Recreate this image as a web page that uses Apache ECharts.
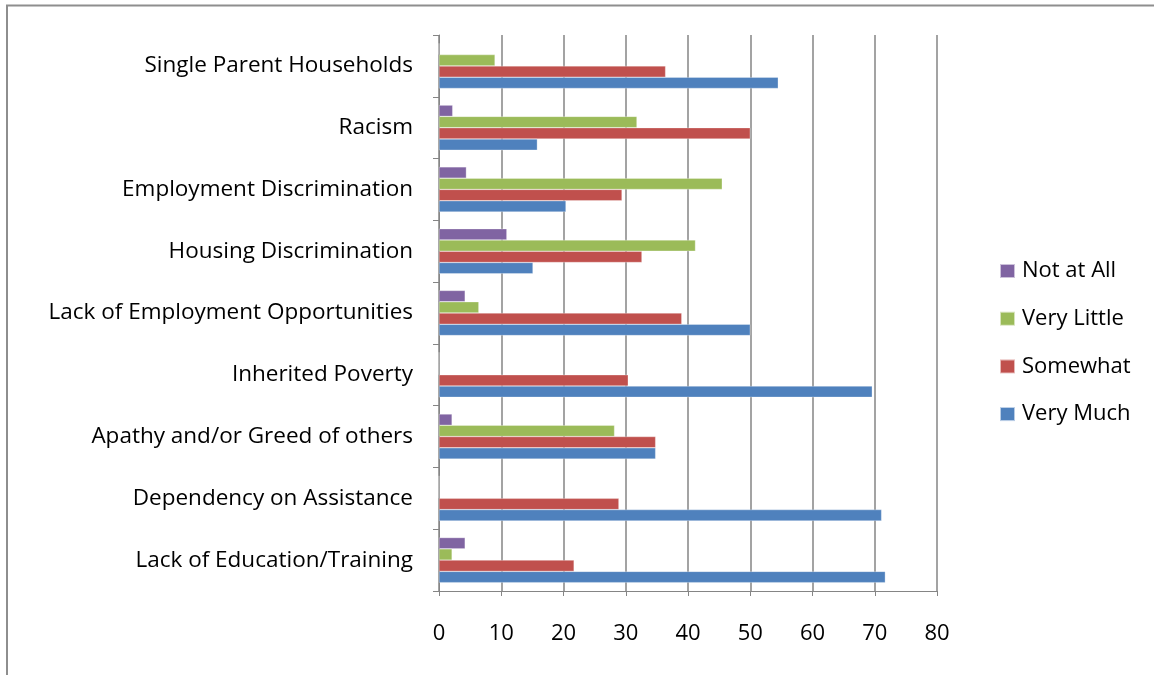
<!DOCTYPE html>
<html>
<head>
<meta charset="utf-8">
<script src="https://cdn.jsdelivr.net/npm/echarts@6/dist/echarts.min.js"></script>
<style>html,body{margin:0;padding:0;background:#fff;}#c{width:1154px;height:675px;}</style>
</head>
<body>
<div id="c"></div>
<script>
const categories = ['Lack of Education/Training','Dependency on Assistance','Apathy and/or Greed of others','Inherited Poverty','Lack of Employment Opportunities','Housing Discrimination','Employment Discrimination','Racism','Single Parent Households'];
const veryMuch  = [71.7, 71.1, 34.8, 69.6, 50.0, 15.1, 20.4, 15.8, 54.5];
const somewhat  = [21.7, 28.9, 34.8, 30.4, 39.0, 32.6, 29.4, 50.0, 36.4];
const veryLittle= [2.1, 0, 28.2, 0, 6.4, 41.2, 45.5, 31.8, 9.0];
const notAtAll  = [4.2, 0, 2.1, 0, 4.2, 10.9, 4.4, 2.2, 0];
const xTicks = [0,10,20,30,40,50,60,70,80];

const font = 'Open Sans';
const chart = echarts.init(document.getElementById('c'), null, {renderer:'canvas'});
function s(name, data, color){
  return {name, type:'bar', data, barGap:'0%', barCategoryGap:'27%',
    itemStyle:{color, borderColor:'rgba(255,255,255,0.6)', borderWidth:0.5}, animation:false};
}
chart.setOption({
  animation:false,
  backgroundColor:'#fff',
  grid:{left:439, right:217, top:35, bottom:84},
  graphic:[{type:'rect', shape:{x:7, y:5.5, width:1160, height:680}, style:{fill:'none', stroke:'#8e8e8e', lineWidth:2}, silent:true}],
  legend:{orient:'vertical', left:994, top:255, itemWidth:15, itemHeight:14, itemGap:25.7,
    textStyle:{fontFamily:font, fontSize:22, lineHeight:20, color:'#000', padding:[0,0,0,2]},
    data:['Not at All','Very Little','Somewhat','Very Much'], icon:'rect'},
  xAxis:{type:'value', min:xTicks[0], max:xTicks[xTicks.length-1], interval:10,
    axisLine:{show:true, lineStyle:{color:'#858585', width:1}},
    axisTick:{show:true, length:5, lineStyle:{color:'#858585'}},
    axisLabel:{margin:32, fontFamily:font, fontSize:22, color:'#000'},
    splitLine:{show:true, lineStyle:{color:'#858585', width:1.5}}},
  yAxis:{type:'category', data:categories,
    axisLine:{show:true, lineStyle:{color:'#858585', width:1}},
    axisTick:{show:true, length:6, lineStyle:{color:'#858585'}},
    axisLabel:{margin:26, fontFamily:font, fontSize:22.5, color:'#000'}},
  series:[s('Not at All', notAtAll, '#8064A2'), s('Very Little', veryLittle, '#9BBB59'), s('Somewhat', somewhat, '#C0504D'), s('Very Much', veryMuch, '#4F81BD')]
});
</script>
</body>
</html>
